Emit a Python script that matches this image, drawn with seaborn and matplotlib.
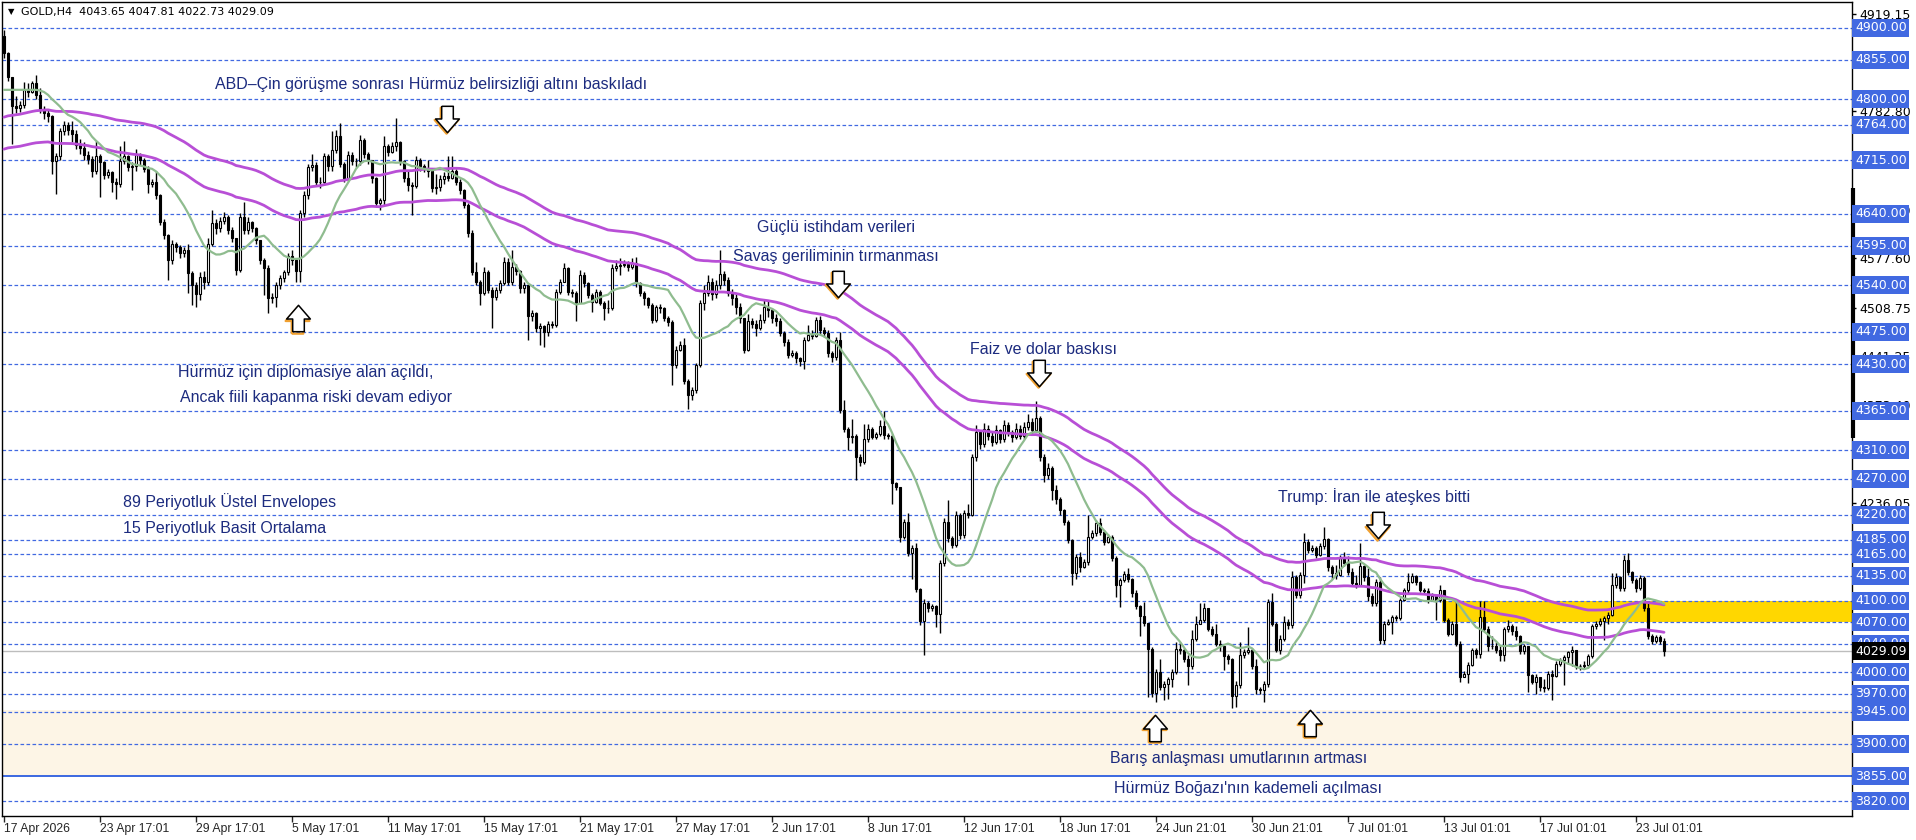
import numpy as np
import pandas as pd
import matplotlib
matplotlib.use('Agg')
import matplotlib.pyplot as plt
import matplotlib.transforms as mtransforms
from matplotlib import font_manager
import seaborn as sns

# --- data (GOLD H4), one value per bar ---
FIRST_OPEN = 4888.0
CLOSE = [
    4864, 4831, 4790, 4787, 4792, 4813, 4810, 4822, 4806, 4786,
    4780, 4776, 4713, 4720, 4755, 4764, 4757, 4752, 4736, 4732,
    4722, 4717, 4699, 4720, 4712, 4694, 4698, 4685, 4682, 4713,
    4720, 4705, 4706, 4722, 4715, 4703, 4682, 4684, 4666, 4629,
    4610, 4575, 4598, 4593, 4585, 4590, 4557, 4540, 4528, 4552,
    4545, 4598, 4627, 4620, 4630, 4636, 4618, 4606, 4561, 4636,
    4617, 4629, 4620, 4603, 4575, 4564, 4522, 4524, 4540, 4550,
    4558, 4581, 4576, 4560, 4641, 4666, 4705, 4708, 4685, 4684,
    4720, 4706, 4729, 4748, 4710, 4690, 4722, 4713, 4713, 4743,
    4724, 4715, 4690, 4655, 4659, 4734, 4726, 4735, 4740, 4713,
    4690, 4680, 4679, 4715, 4706, 4702, 4699, 4676, 4678, 4688,
    4693, 4690, 4699, 4685, 4673, 4652, 4613, 4559, 4545, 4529,
    4559, 4534, 4524, 4534, 4543, 4573, 4545, 4566, 4560, 4536,
    4540, 4497, 4501, 4481, 4483, 4475, 4486, 4485, 4531, 4545,
    4564, 4531, 4529, 4515, 4555, 4543, 4527, 4517, 4531, 4516,
    4508, 4508, 4564, 4567, 4568, 4570, 4566, 4571, 4543, 4529,
    4522, 4513, 4492, 4510, 4508, 4494, 4489, 4429, 4450, 4457,
    4406, 4387, 4394, 4429, 4515, 4530, 4545, 4528, 4540, 4556,
    4548, 4530, 4522, 4510, 4495, 4450, 4490, 4486, 4481, 4492,
    4510, 4505, 4495, 4490, 4473, 4461, 4443, 4445, 4438, 4434,
    4464, 4471, 4470, 4491, 4478, 4474, 4445, 4440, 4464, 4366,
    4340, 4329, 4330, 4301, 4293, 4326, 4339, 4329, 4332, 4344,
    4331, 4330, 4264, 4259, 4189, 4210, 4167, 4174, 4116, 4071,
    4097, 4089, 4092, 4081, 4152, 4210, 4187, 4178, 4219, 4191,
    4222, 4220, 4300, 4335, 4318, 4340, 4330, 4322, 4338, 4326,
    4345, 4335, 4328, 4340, 4330, 4342, 4350, 4338, 4355, 4300,
    4275, 4285, 4255, 4242, 4226, 4210, 4185, 4138, 4161, 4147,
    4154, 4189, 4194, 4208, 4196, 4182, 4189, 4159, 4122, 4129,
    4137, 4130, 4110, 4092, 4078, 4069, 4032, 3971, 4000, 3980,
    3984, 3990, 4001, 4033, 4031, 4019, 4008, 4047, 4068, 4073,
    4089, 4061, 4054, 4040, 4036, 4022, 4018, 3967, 3982, 4024,
    4028, 4031, 4008, 3977, 3975, 3984, 4098, 4068, 4031, 4047,
    4070, 4066, 4133, 4108, 4136, 4182, 4171, 4173, 4164, 4176,
    4186, 4147, 4138, 4136, 4159, 4152, 4140, 4124, 4122, 4148,
    4133, 4106, 4096, 4126, 4045, 4068, 4070, 4077, 4075, 4101,
    4115, 4126, 4135, 4126, 4115, 4113, 4101, 4106, 4101, 4115,
    4073, 4054, 4068, 4040, 3994, 3998, 4010, 4031, 4025, 4077,
    4061, 4036, 4036, 4031, 4024, 4061, 4064, 4057, 4050, 4029,
    4036, 3996, 3987, 3994, 3980, 3978, 3998, 3995, 4012, 4017,
    4021, 4028, 4031, 4008, 4008, 4010, 4022, 4064, 4068, 4072,
    4075, 4080, 4122, 4133, 4117, 4157, 4140, 4129, 4117, 4131,
    4089, 4050, 4043, 4049, 4043.65, 4029.09,
]
HIGH = [
    4896, 4866, 4805, 4805, 4798, 4824, 4822, 4826, 4834, 4815,
    4790, 4786, 4778, 4725, 4760, 4770, 4768, 4770, 4757, 4745,
    4740, 4728, 4720, 4741, 4724, 4714, 4702, 4700, 4690, 4734,
    4741, 4722, 4712, 4731, 4725, 4718, 4706, 4688, 4700, 4668,
    4632, 4612, 4604, 4600, 4596, 4594, 4598, 4560, 4545, 4558,
    4560, 4606, 4645, 4632, 4635, 4642, 4638, 4622, 4600, 4641,
    4657, 4635, 4630, 4622, 4604, 4578, 4568, 4530, 4545, 4555,
    4562, 4585, 4590, 4578, 4645, 4672, 4710, 4724, 4712, 4692,
    4725, 4724, 4755, 4757, 4766, 4712, 4728, 4726, 4718, 4750,
    4746, 4726, 4703, 4692, 4662, 4748, 4738, 4740, 4773, 4742,
    4715, 4700, 4684, 4720, 4718, 4710, 4715, 4702, 4696, 4694,
    4698, 4720, 4720, 4702, 4688, 4675, 4655, 4617, 4573, 4548,
    4566, 4562, 4538, 4538, 4548, 4580, 4578, 4590, 4570, 4562,
    4545, 4542, 4505, 4503, 4487, 4485, 4490, 4490, 4535, 4549,
    4571, 4566, 4535, 4532, 4562, 4558, 4545, 4530, 4535, 4534,
    4518, 4520, 4570, 4575, 4578, 4576, 4574, 4578, 4580, 4545,
    4532, 4524, 4515, 4512, 4514, 4510, 4497, 4492, 4455, 4462,
    4466, 4410, 4398, 4432, 4520, 4540, 4555, 4550, 4548, 4590,
    4560, 4552, 4535, 4528, 4515, 4495, 4500, 4495, 4492, 4500,
    4520, 4518, 4508, 4500, 4495, 4476, 4465, 4450, 4448, 4440,
    4468, 4485, 4478, 4496, 4497, 4482, 4478, 4448, 4468, 4475,
    4380, 4342, 4353, 4332, 4304, 4346, 4346, 4342, 4336, 4352,
    4364, 4334, 4333, 4266, 4258, 4214, 4222, 4178, 4180, 4118,
    4102, 4100, 4095, 4094, 4156, 4215, 4240, 4190, 4225, 4222,
    4226, 4235, 4305, 4345, 4338, 4348, 4345, 4335, 4345, 4340,
    4352, 4350, 4338, 4348, 4345, 4350, 4360, 4355, 4378, 4358,
    4305, 4292, 4288, 4262, 4245, 4228, 4212, 4186, 4165, 4168,
    4158, 4219, 4198, 4212, 4215, 4198, 4193, 4192, 4162, 4132,
    4142, 4146, 4132, 4115, 4094, 4098, 4068, 4035, 4005, 4018,
    3988, 3994, 4005, 4042, 4042, 4034, 4024, 4059, 4078, 4096,
    4096, 4090, 4064, 4068, 4045, 4036, 4025, 4020, 3988, 4042,
    4032, 4063, 4034, 4018, 3980, 3988, 4102, 4110, 4070, 4052,
    4078, 4074, 4142, 4136, 4140, 4194, 4186, 4178, 4176, 4180,
    4203, 4188, 4150, 4150, 4163, 4168, 4162, 4145, 4136, 4180,
    4150, 4145, 4110, 4130, 4133, 4072, 4074, 4080, 4080, 4104,
    4118, 4138, 4139, 4136, 4128, 4118, 4117, 4110, 4108, 4122,
    4100, 4076, 4071, 4100, 4043, 4002, 4014, 4034, 4034, 4100,
    4100, 4064, 4050, 4042, 4036, 4063, 4073, 4068, 4064, 4052,
    4040, 4031, 3998, 3998, 3988, 3990, 4002, 4003, 4015, 4020,
    4024, 4030, 4036, 4030, 4012, 4015, 4026, 4068, 4072, 4076,
    4078, 4084, 4138, 4138, 4135, 4164, 4166, 4142, 4131, 4136,
    4134, 4096, 4054, 4052, 4052, 4047.81,
]
LOW = [
    4858, 4826, 4738, 4780, 4782, 4788, 4803, 4808, 4800, 4780,
    4772, 4768, 4696, 4668, 4715, 4750, 4750, 4740, 4730, 4724,
    4715, 4710, 4692, 4695, 4664, 4688, 4690, 4670, 4660, 4678,
    4710, 4700, 4673, 4700, 4708, 4698, 4669, 4678, 4660, 4625,
    4605, 4548, 4570, 4586, 4578, 4580, 4530, 4512, 4510, 4520,
    4535, 4540, 4595, 4612, 4615, 4626, 4612, 4600, 4555, 4558,
    4612, 4612, 4614, 4598, 4570, 4527, 4501, 4515, 4510, 4535,
    4545, 4555, 4568, 4545, 4545, 4636, 4660, 4700, 4680, 4676,
    4680, 4700, 4700, 4725, 4705, 4684, 4686, 4708, 4705, 4708,
    4718, 4710, 4683, 4650, 4645, 4652, 4720, 4725, 4728, 4708,
    4684, 4672, 4638, 4676, 4700, 4698, 4692, 4670, 4668, 4672,
    4682, 4686, 4688, 4680, 4668, 4648, 4608, 4555, 4540, 4513,
    4526, 4530, 4480, 4520, 4530, 4540, 4540, 4540, 4555, 4530,
    4530, 4464, 4490, 4475, 4457, 4454, 4470, 4480, 4482, 4528,
    4545, 4526, 4524, 4490, 4515, 4538, 4522, 4503, 4515, 4512,
    4492, 4502, 4505, 4560, 4555, 4565, 4560, 4563, 4538, 4525,
    4513, 4508, 4488, 4489, 4502, 4490, 4484, 4401, 4425, 4448,
    4402, 4367, 4380, 4390, 4426, 4505, 4525, 4520, 4522, 4535,
    4540, 4525, 4512, 4500, 4488, 4445, 4448, 4480, 4470, 4478,
    4488, 4496, 4488, 4484, 4470, 4455, 4438, 4440, 4432, 4428,
    4423, 4462, 4465, 4468, 4472, 4468, 4440, 4433, 4436, 4362,
    4335, 4310, 4320, 4269, 4288, 4290, 4322, 4325, 4326, 4330,
    4326, 4326, 4235, 4254, 4182, 4186, 4162, 4130, 4112, 4066,
    4024, 4084, 4085, 4063, 4055, 4148, 4182, 4174, 4175, 4186,
    4188, 4215, 4218, 4295, 4312, 4315, 4324, 4316, 4318, 4320,
    4322, 4330, 4322, 4325, 4325, 4326, 4338, 4332, 4335, 4295,
    4265, 4270, 4240, 4235, 4220, 4205, 4180, 4122, 4130, 4140,
    4145, 4150, 4186, 4190, 4192, 4178, 4180, 4155, 4105, 4091,
    4126, 4126, 4105, 4088, 4050, 4065, 3966, 3966, 3959, 3975,
    3961, 3963, 3980, 3998, 4026, 4014, 3982, 4004, 4044, 4068,
    4070, 4058, 4050, 4036, 4030, 4003, 4012, 3950, 3952, 3978,
    4020, 4025, 4004, 3970, 3970, 3959, 3980, 4064, 4028, 4026,
    4044, 4060, 4062, 4104, 4104, 4124, 4166, 4168, 4160, 4162,
    4172, 4142, 4130, 4130, 4134, 4148, 4136, 4120, 4118, 4120,
    4128, 4100, 4092, 4092, 4040, 4040, 4066, 4054, 4071, 4073,
    4100, 4110, 4124, 4122, 4112, 4110, 4097, 4100, 4073, 4098,
    4070, 4050, 4052, 4036, 3987, 3993, 3985, 4008, 4020, 4020,
    4058, 4030, 4032, 4027, 4015, 4016, 4056, 4052, 4045, 4025,
    4026, 3973, 3983, 3970, 3974, 3972, 3975, 3961, 3993, 4008,
    3982, 4012, 4008, 4004, 4003, 4004, 4006, 4020, 4060, 4064,
    4045, 4068, 4078, 4118, 4114, 4114, 4136, 4125, 4112, 4115,
    4085, 4046, 4040, 4041, 4040, 4022.73,
]

# indicator settings / start values
EMA_SEED = 4750.0
ENV_DEV = 0.47  # percent
SMA_HEAD = [4813, 4813, 4813, 4813, 4813, 4813, 4813, 4813, 4813, 4812,
            4810, 4806, 4800, 4795]

LEVELS = [4900, 4855, 4800, 4764, 4715, 4640, 4595, 4540, 4475, 4430, 4365,
          4310, 4270, 4220, 4185, 4165, 4135, 4100, 4070, 4040, 4000, 3970,
          3945, 3900, 3855, 3820]
SOLID_LEVEL = 3855
SCALE_LABELS = [4919.15, 4782.80, 4645.10, 4577.60, 4508.75, 4441.25,
                4373.40, 4236.05]
DATE_LABELS = ['17 Apr 2026', '23 Apr 17:01', '29 Apr 17:01', '5 May 17:01',
               '11 May 17:01', '15 May 17:01', '21 May 17:01', '27 May 17:01',
               '2 Jun 17:01', '8 Jun 17:01', '12 Jun 17:01', '18 Jun 17:01',
               '24 Jun 21:01', '30 Jun 21:01', '7 Jul 01:01', '13 Jul 01:01',
               '17 Jul 01:01', '23 Jul 01:01']
TITLE = 'GOLD,H4  4043.65 4047.81 4022.73 4029.09'
GOLD_ZONE = (4070, 4100)
CREAM_ZONE = (3855, 3947)

# text objects: (text, bar, price, ha)
NOTES = [
    ('ABD–Çin görüşme sonrası Hürmüz belirsizliği altını baskıladı', 106.8, 4821, 'center'),
    ('Güçlü istihdam verileri', 208, 4621, 'center'),
    ('Savaş geriliminin tırmanması', 208, 4580, 'center'),
    ('Hürmüz için diplomasiye alan açıldı,', 75.3, 4418, 'center'),
    ('Ancak fiili kapanma riski devam ediyor', 78, 4383, 'center'),
    ('Faiz ve dolar baskısı', 259.8, 4451, 'center'),
    ('89 Periyotluk Üstel Envelopes', 29.8, 4238, 'left'),
    ('15 Periyotluk Basit Ortalama', 29.8, 4200, 'left'),
    ('Trump: İran ile ateşkes bitti', 342.5, 4245, 'center'),
    ('Barış anlaşması umutlarının artması', 308.6, 3879, 'center'),
    ('Hürmüz Boğazı\'nın kademeli açılması', 310.9, 3838, 'center'),
]
ARROWS = [('down', 110.8, 4772), ('up', 73.5, 4494), ('down', 208.5, 4542),
          ('down', 258.8, 4418), ('down', 343.5, 4205), ('up', 287.8, 3922),
          ('up', 326.5, 3929)]

W, H = 1916, 840
BLUE = '#4169E1'

sns.set_style('white')
plt.rcParams['font.family'] = ['DejaVu Sans']

names = {f.name for f in font_manager.fontManager.ttflist}
if 'Liberation Sans Narrow' in names:
    note_font, note_size, date_size = 'Liberation Sans Narrow', 13.5, 9.5
else:
    note_font, note_size, date_size = 'Liberation Sans', 11.5, 8.8

close = np.array(CLOSE, dtype=float)
opn = np.concatenate([[FIRST_OPEN], close[:-1]])
high = np.maximum(np.array(HIGH, dtype=float), np.maximum(opn, close))
low = np.minimum(np.array(LOW, dtype=float), np.minimum(opn, close))
bars = np.arange(len(close))

ema = pd.Series(np.concatenate([[EMA_SEED], close])).ewm(span=89, adjust=False).mean().to_numpy()[1:]
sma = pd.Series(close).rolling(15).mean().to_numpy()
sma[:len(SMA_HEAD)] = SMA_HEAD
df = pd.DataFrame({'bar': bars, 'upper': ema * (1 + ENV_DEV / 100),
                   'lower': ema * (1 - ENV_DEV / 100), 'sma': sma})

fig = plt.figure(figsize=(W / 100, H / 100), dpi=100)
ax = fig.add_axes([2 / W, 24 / H, 1850 / W, 814 / H])
ax.set_xlim(-0.5, 462)
ax.set_ylim(3799.3, 4935.6)
trans = mtransforms.blended_transform_factory(ax.transAxes, ax.transData)

# zones
ax.axhspan(*CREAM_ZONE, color='#FDF5E6', zorder=0, lw=0)
ax.axhspan(*GOLD_ZONE, xmin=(359.5 + 0.5) / 462.5, xmax=1, color='#FFD700', zorder=0.5, lw=0)

# horizontal levels
for lv in LEVELS:
    if lv == SOLID_LEVEL:
        ax.axhline(lv, color='#3B68E0', lw=1.4, zorder=1)
    else:
        ax.axhline(lv, color=BLUE, lw=0.9, ls=(0, (2.9, 1.9)), zorder=1)
ax.axhline(close[-1], color='#BDBDBD', lw=1, zorder=1)

# candles
up = close >= opn
ax.vlines(bars, low, high, color='black', lw=1, zorder=3)
ax.bar(bars[~up], (opn - close)[~up], bottom=close[~up], width=0.55,
       color='black', edgecolor='black', lw=0.8, zorder=4)
ax.bar(bars[up], (close - opn)[up], bottom=opn[up], width=0.55,
       color='white', edgecolor='black', lw=0.8, zorder=4)

# indicators
sns.lineplot(data=df, x='bar', y='upper', color='#B84FD6', lw=2, ax=ax, zorder=5)
sns.lineplot(data=df, x='bar', y='lower', color='#B84FD6', lw=2, ax=ax, zorder=5)
sns.lineplot(data=df, x='bar', y='sma', color='#8FBC8F', lw=1.6, ax=ax, zorder=6)

# annotations
for txt, b, p, ha in NOTES:
    ax.text(b, p, txt, ha=ha, va='center', color='#1C2B7F', fontsize=note_size,
            family=[note_font, 'DejaVu Sans'], zorder=7)

# hollow block arrows (down shape, flipped for up)
down_arrow = [(-0.22, 0.5), (0.22, 0.5), (0.22, 0.02), (0.45, 0.02), (0.0, -0.5),
              (-0.45, 0.02), (-0.22, 0.02), (-0.22, 0.5)]
up_arrow = [(x, -y) for x, y in down_arrow]
shadow = mtransforms.offset_copy(ax.transData, fig=fig, x=-1.5, y=-1.2, units='dots')
for d, b, p in ARROWS:
    m = down_arrow if d == 'down' else up_arrow
    ax.plot([b], [p], marker=m, ms=19, mfc='none', mec='#F0A030', mew=1.6,
            ls='none', transform=shadow, zorder=7)
    ax.plot([b], [p], marker=m, ms=19, mfc='white', mec='black', mew=1.1,
            ls='none', zorder=8)

# axes styling
for s in ax.spines.values():
    s.set_color('black')
    s.set_linewidth(1)
ax.set_xlabel('')
ax.set_ylabel('')
ax.yaxis.tick_right()
ax.set_yticks(SCALE_LABELS)
ax.set_yticklabels([f'{v:.2f}' for v in SCALE_LABELS])
ax.tick_params(axis='y', length=3, width=1, pad=2, labelsize=9, colors='black', right=True, left=False)
ax.set_xticks(range(0, 24 * len(DATE_LABELS), 24))
ax.set_xticklabels(DATE_LABELS, ha='left', family=[note_font, 'DejaVu Sans'], fontsize=date_size)
ax.tick_params(axis='x', length=4, width=1, pad=1, bottom=True)

ax.plot([1.0005, 1.0005], [4676, 4327], transform=trans, color='black', lw=3,
        solid_capstyle='butt', clip_on=False, zorder=9)

for lv in LEVELS:
    ax.text(1.0016, lv, f'{lv:.2f}', transform=trans, ha='left', va='center',
            color='white', fontsize=9, clip_on=False, zorder=10,
            bbox=dict(boxstyle='square,pad=0.2', fc=BLUE, ec='none'))
ax.text(1.0016, close[-1], f'{close[-1]:.2f}', transform=trans, ha='left', va='center',
        color='white', fontsize=9, clip_on=False, zorder=11,
        bbox=dict(boxstyle='square,pad=0.2', fc='black', ec='none'))

fig.text(8 / W, 1 - 12 / H, '▼', fontsize=6, va='center', ha='left', color='black')
fig.text(21 / W, 1 - 12 / H, TITLE, fontsize=8, va='center', ha='left', color='black')

fig.savefig('out.png', dpi=100, facecolor='white')
